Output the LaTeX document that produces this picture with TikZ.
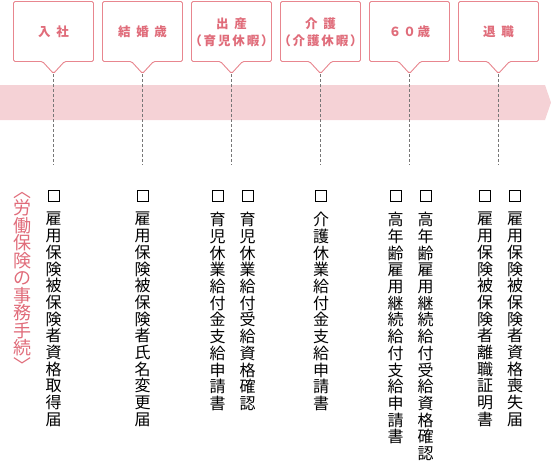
\documentclass[tikz,border=0pt]{standalone}
\usepackage{fontspec}
\setmainfont{Noto Sans CJK JP}
\newfontfamily\evfont[LetterSpace=45]{Noto Sans CJK JP}
\newfontfamily\evsub[LetterSpace=15]{Noto Sans CJK JP}
\usetikzlibrary{positioning}

\definecolor{lblpink}{HTML}{E06C7A}
\definecolor{boxpink}{HTML}{E8868F}
\definecolor{bandpink}{HTML}{F5D2D6}
\definecolor{dashgray}{HTML}{777777}

\newcommand\tate[2][16.7pt]{\vbox{\baselineskip=#1\lineskiplimit=-\maxdimen\expandafter\tatelp#2\relax}}
\def\tatelp#1{\ifx\relax#1\else\hbox to 1em{\hss#1\hss}\expandafter\tatelp\fi}

\begin{document}
\begin{tikzpicture}[x=1pt,y=-1pt,
  callout/.style={draw=boxpink,line width=0.9pt,fill=white,rounded corners=1.5pt},
  evlabel/.style={text=lblpink,font=\evfont\bfseries\fontsize{12.5}{17}\selectfont,align=center,inner sep=0pt},
  guide/.style={draw=dashgray,line width=0.8pt,dash pattern=on 3pt off 2pt},
  chk/.style={draw,line width=0.8pt,minimum size=11pt,inner sep=0pt},
  form/.style={inner sep=0pt,font=\fontsize{16}{16}\selectfont},
  topic/.style={inner sep=0pt,anchor=north,text=lblpink,font=\fontsize{18}{18}\selectfont}]
\useasboundingbox (0,0) rectangle (551,464);
\fill[bandpink] (0,85) -- (545,85) -- (551,102.5) -- (545,120) -- (0,120) -- cycle;
\foreach \n/\cx/\lbl in {1/53.5/入社, 2/142.5/結婚歳, 3/231.5/{出産\\{\evsub（育児休暇）}},
    4/320.5/{介護\\{\evsub（介護休暇）}}, 5/409.5/{\evsub ６０歳}, 6/498.5/退職}{
  \draw[callout] (\cx-40,1.5) -- (\cx+40,1.5) -- (\cx+40,61.5) -- (\cx+11,61.5)
    -- (\cx,73.5) -- (\cx-11,61.5) -- (\cx-40,61.5) -- cycle;
  \node[evlabel] (ev\n) at (\cx,32) {\lbl};
  \coordinate (tip\n) at (\cx,74);
  \coordinate (end\n) at (\cx,165);
  \draw[guide] (tip\n) -- (end\n);
}
\node[topic] (jimu) at (22.5,192) {\tate[17.5pt]{︿労働保険の事務手続﹀}};
\foreach \n/\fx/\txt in {1/53.5/雇用保険被保険者資格取得届, 2/142.5/雇用保険被保険者氏名変更届,
    3/217.5/育児休業給付金支給申請書, 4/247.5/育児休業給付受給資格確認,
    5/321/介護休業給付金支給申請書, 6/395.5/高年齢雇用継続給付支給申請書,
    7/425.5/高年齢雇用継続給付受給資格確認, 8/485/雇用保険被保険者離職証明書,
    9/515/雇用保険被保険者資格喪失届}{
  \node[chk] (box\n) at (\fx,195.7) {};
  \node[form,below=10.5pt of box\n] (form\n) {\tate{\txt}};
}
\end{tikzpicture}
\end{document}
